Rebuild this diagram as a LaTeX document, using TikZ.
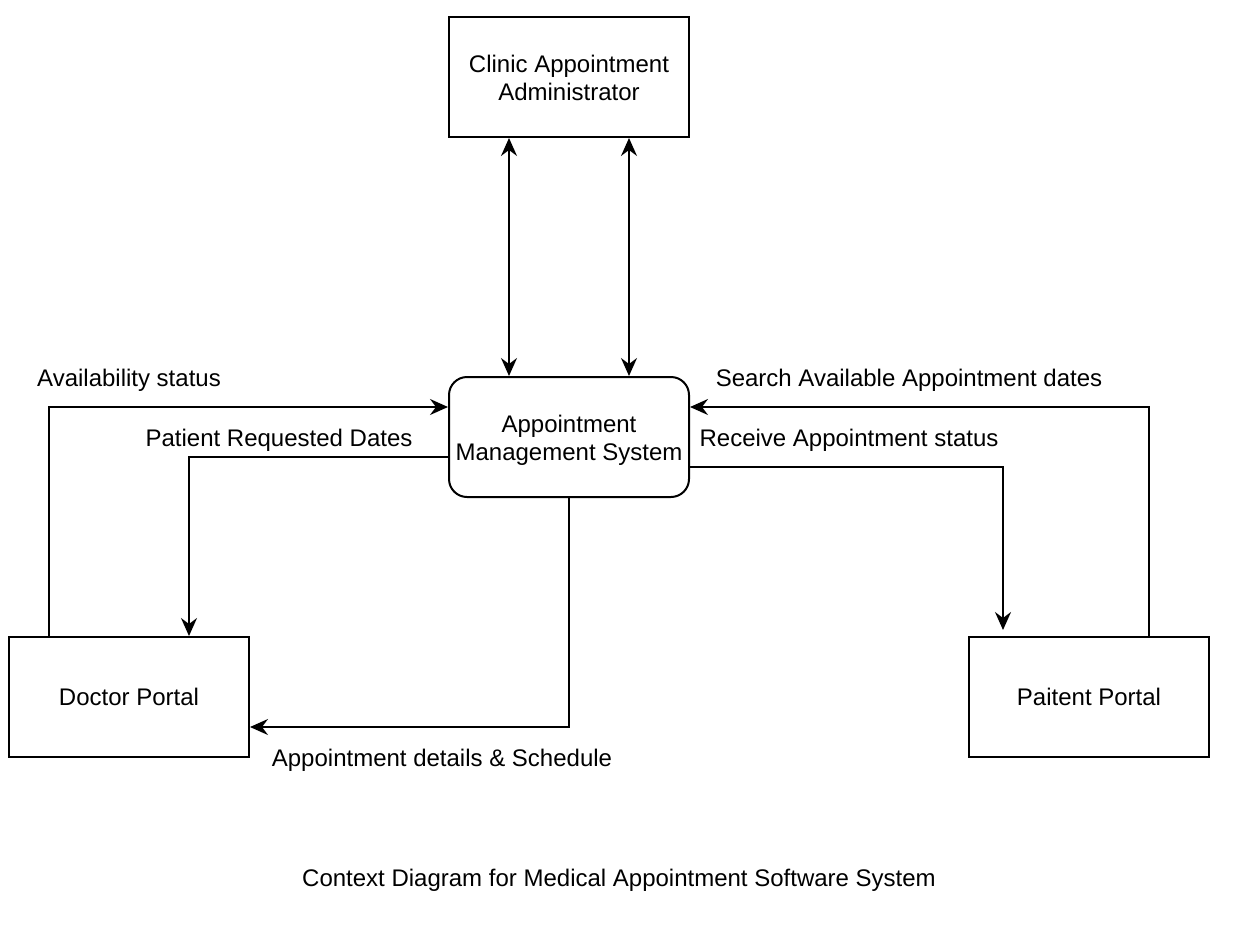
\documentclass[tikz,border=0pt]{standalone}
\usepackage{fontspec}
\setmainfont{Liberation Sans}
\usetikzlibrary{arrows.meta}
\begin{document}
\begin{tikzpicture}[x=1pt,y=-1pt,
  box/.style={draw,line width=2pt,minimum width=240pt,minimum height=120pt,inner sep=0pt,align=center,font=\fontsize{24}{28}\selectfont},
  lbl/.style={font=\fontsize{24}{28}\selectfont,inner sep=0pt,anchor=base},
  arr/.style={line width=2pt,-{Stealth[length=18pt,width=16pt,inset=6pt]}},
  darr/.style={line width=2pt,{Stealth[length=18pt,width=16pt,inset=6pt]}-{Stealth[length=18pt,width=16pt,inset=6pt]}}]
\useasboundingbox (0,0) rectangle (1234,948);
\fill[white] (0,0) rectangle (1234,948);
\node[box] (adm) at (569,77) {\rule{0pt}{20pt}Clinic Appointment\\Administrator};
\node[box,rounded corners=18pt] (ams) at (569,437) {\rule{0pt}{24pt}Appointment\\Management System};
\node[box] (doc) at (129,697) {Doctor Portal};
\node[box] (pat) at (1089,697) {Paitent Portal};
\coordinate (rcv) at (1003,630);
\draw[darr] ([xshift=-60pt]adm.south) -- ([xshift=-60pt]ams.north);
\draw[darr] ([xshift=60pt]adm.south) -- ([xshift=60pt]ams.north);
\draw[arr] ([xshift=-80pt]doc.north) |- ([yshift=30pt]ams.west);
\draw[arr] ([yshift=-20pt]ams.west) -| ([xshift=60pt]doc.north);
\draw[arr] (ams.south) |- ([yshift=-30pt]doc.east);
\draw[arr] ([xshift=60pt]pat.north) |- ([yshift=30pt]ams.east);
\draw[arr] ([yshift=-30pt]ams.east) -| (rcv);
\node[lbl] (l1) at (129,386) {Availability status};
\node[lbl] (l2) at (279,446) {Patient Requested Dates};
\node[lbl] (l3) at (442,766) {Appointment details \& Schedule};
\node[lbl] (l4) at (909,386) {Search Available Appointment dates};
\node[lbl] (l5) at (849,446) {Receive Appointment status};
\node[lbl] (cap) at (619,886) {Context Diagram for Medical Appointment Software System};
\end{tikzpicture}
\end{document}
